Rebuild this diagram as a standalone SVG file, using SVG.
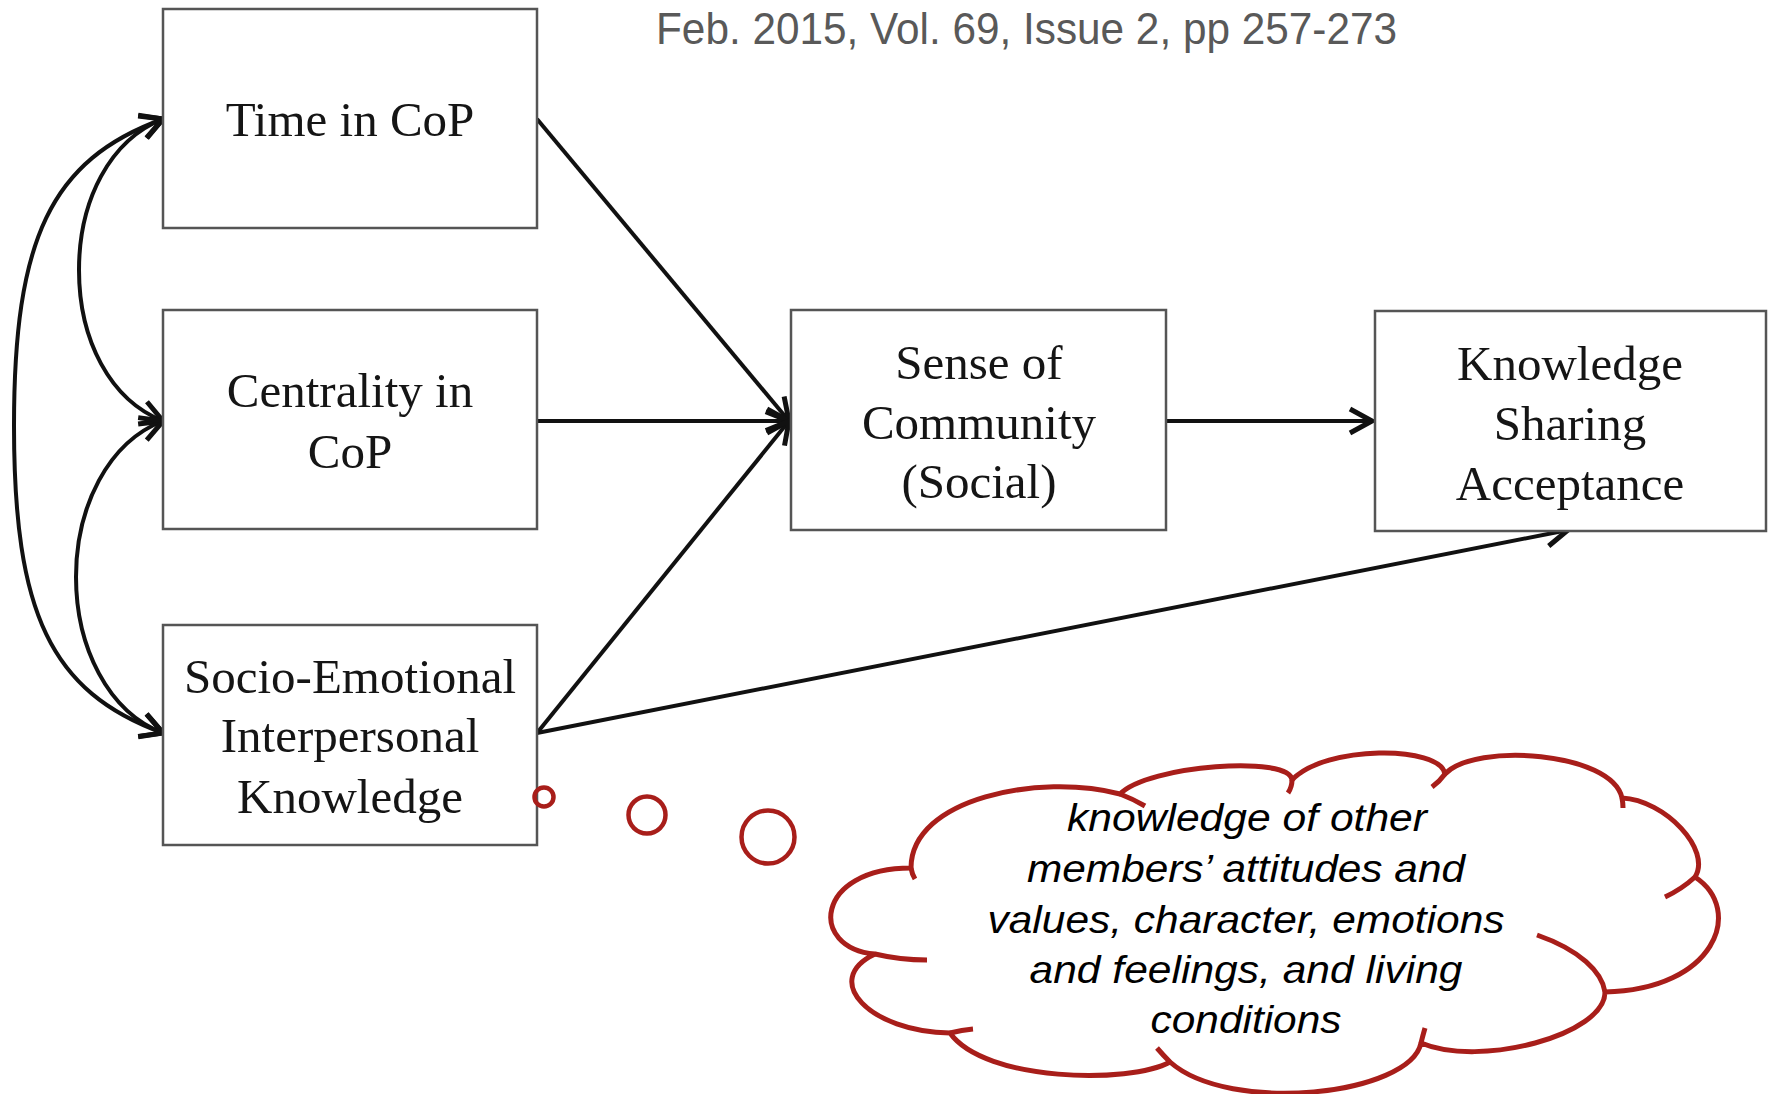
<svg xmlns="http://www.w3.org/2000/svg" width="1773" height="1094" viewBox="0 0 1773 1094">
  <style>
    .box { fill: #ffffff; stroke: #555555; stroke-width: 2.5; }
    .lbl { font-family: "Liberation Serif", "Times New Roman", serif; font-size: 49px; fill: #151515; text-anchor: middle; }
    .edge { fill: none; stroke: #111111; stroke-width: 4; }
    .cloud { fill: #ffffff; stroke: #a81e1a; stroke-width: 5; stroke-linejoin: round; }
    .hook { fill: none; stroke: #a81e1a; stroke-width: 5; }
    .bubble { fill: none; stroke: #a81e1a; stroke-width: 4.5; }
    .note { font-family: "Liberation Sans", Arial, sans-serif; font-style: italic; font-size: 39px; fill: #000000; text-anchor: middle; }
    .ref { font-family: "Liberation Sans", Arial, sans-serif; font-size: 45px; fill: #595959; }
  </style>
  <defs>
    <marker id="head" markerUnits="userSpaceOnUse" markerWidth="40" markerHeight="40" refX="0" refY="0" viewBox="-30 -20 40 40" orient="auto-start-reverse" overflow="visible">
      <path d="M-22,-12 L0,0 L-22,12" fill="none" stroke="#111111" stroke-width="5" stroke-linejoin="miter"/>
    </marker>
  </defs>

  <rect width="1773" height="1094" fill="#ffffff"/>

  <!-- citation line -->
  <text class="ref" x="656" y="44" textLength="741" lengthAdjust="spacingAndGlyphs">Feb. 2015, Vol. 69, Issue 2, pp 257-273</text>

  <!-- connectors -->
  <g id="connectors">
    <path class="edge" d="M163,119 C110,140 79,200 79,270 C79,340 110,400 163,421" marker-start="url(#head)" marker-end="url(#head)"/>
    <path class="edge" d="M163,421 C108,442 76,507 76,577 C76,647 108,712 163,733" marker-start="url(#head)" marker-end="url(#head)"/>
    <path class="edge" d="M163,119 C50,160 14,240 14,426 C14,612 50,692 163,733" marker-start="url(#head)" marker-end="url(#head)"/>
    <path class="edge" d="M537,119 L789,421" marker-end="url(#head)"/>
    <path class="edge" d="M537,421 L789,421" marker-end="url(#head)"/>
    <path class="edge" d="M537,733 L789,421" marker-end="url(#head)"/>
    <path class="edge" d="M1166,421 L1372,421" marker-end="url(#head)"/>
    <path class="edge" d="M537,733 L1568,530" marker-end="url(#head)"/>
  </g>

  <!-- nodes -->
  <g id="time-in-cop">
    <rect class="box" x="163" y="9" width="374" height="219"/>
    <text class="lbl" x="350" y="136">Time in CoP</text>
  </g>
  <g id="centrality-in-cop">
    <rect class="box" x="163" y="310" width="374" height="219"/>
    <text class="lbl" x="350" y="407">Centrality in</text>
    <text class="lbl" x="350" y="468">CoP</text>
  </g>
  <g id="socio-emotional">
    <rect class="box" x="163" y="625" width="374" height="220"/>
    <text class="lbl" x="350" y="693">Socio-Emotional</text>
    <text class="lbl" x="350" y="752">Interpersonal</text>
    <text class="lbl" x="350" y="813">Knowledge</text>
  </g>
  <g id="sense-of-community">
    <rect class="box" x="791" y="310" width="375" height="220"/>
    <text class="lbl" x="979" y="379">Sense of</text>
    <text class="lbl" x="979" y="439">Community</text>
    <text class="lbl" x="979" y="498">(Social)</text>
  </g>
  <g id="knowledge-sharing-acceptance">
    <rect class="box" x="1375" y="311" width="391" height="220"/>
    <text class="lbl" x="1570" y="380">Knowledge</text>
    <text class="lbl" x="1570" y="440">Sharing</text>
    <text class="lbl" x="1570" y="500">Acceptance</text>
  </g>

  <!-- thought bubble trail -->
  <g id="bubble-trail">
    <circle class="bubble" cx="544" cy="797" r="9.5"/>
    <circle class="bubble" cx="647" cy="815" r="18.5"/>
    <circle class="bubble" cx="768" cy="837" r="26.5"/>
  </g>

  <!-- thought cloud -->
  <g id="thought-cloud">
    <path class="cloud" d="M911,868 C911,798 1040,773 1120,794 C1148,765 1290,755 1292,780 C1325,745 1440,745 1445,774 C1475,742 1612,752 1622,798 C1665,800 1712,850 1695,877 C1745,910 1715,990 1605,992 C1605,1035 1480,1068 1421,1043 C1410,1095 1230,1115 1170,1062 C1130,1084 985,1082 950,1033 C870,1032 820,980 875,954 C808,948 815,868 911,868 Z"/>
    <path class="hook" d="M911,868 Q912,874 915,879 M1120,794 Q1133,799 1145,806 M1292,780 Q1292,787 1288,793 M1445,774 Q1440,781 1432,787 M1622,798 Q1623,803 1623,808 M1695,877 Q1682,889 1665,897 M1605,992 C1602,972 1580,950 1537,935 M1421,1043 Q1423,1035 1425,1028 M1170,1062 Q1163,1055 1157,1048 M950,1033 Q962,1030 973,1029 M875,954 Q900,960 927,960"/>
    <text class="note" x="1247" y="831" textLength="360" lengthAdjust="spacingAndGlyphs">knowledge of other</text>
    <text class="note" x="1246" y="882" textLength="438" lengthAdjust="spacingAndGlyphs">members’ attitudes and</text>
    <text class="note" x="1246" y="933" textLength="517" lengthAdjust="spacingAndGlyphs">values, character, emotions</text>
    <text class="note" x="1246" y="983" textLength="433" lengthAdjust="spacingAndGlyphs">and feelings, and living</text>
    <text class="note" x="1246" y="1033" textLength="191" lengthAdjust="spacingAndGlyphs">conditions</text>
  </g>
</svg>
